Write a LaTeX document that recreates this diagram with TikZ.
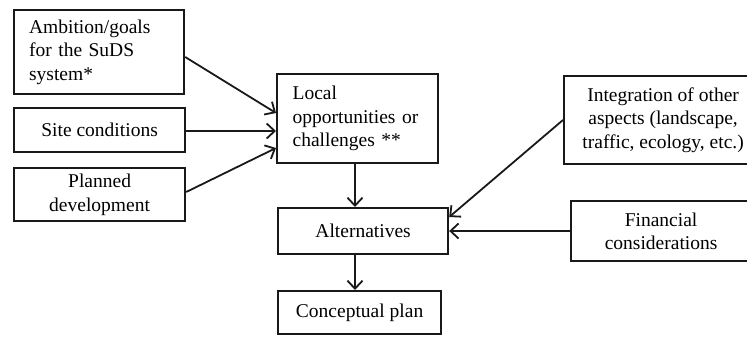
\documentclass[tikz,border=0pt]{standalone}
\usepackage{fontspec}
\setmainfont{Liberation Serif}
\usetikzlibrary{arrows.meta}
\begin{document}
\begin{tikzpicture}[x=1pt,y=-1pt,
  box/.style={draw=black!90, line width=2.2pt, anchor=north west, inner sep=0pt,
    font=\fontsize{19.5}{23.5}\selectfont},
  flow/.style={draw=black!90, line width=1.8pt, -{Straight Barb[length=8pt,width=15pt,line width=1.8pt]}}]
\useasboundingbox (0,0) rectangle (747,338);
\clip (0,0) rectangle (747,338);
% left-hand inputs
\node[box, minimum width=170, minimum height=84, text width=140, align=left] (amb) at (13,9)
  {Ambition/goals\\for the SuDS\\system*};
\node[box, minimum width=171, minimum height=44, align=center] (site) at (13,107) {Site conditions};
\node[box, minimum width=171, minimum height=53, align=center] (plan) at (13,167) {Planned\\development};
% central column
\node[box, minimum width=161, minimum height=89, text width=130, align=left] (local) at (276,73)
  {Local\\opportunities or\\challenges **};
\node[box, minimum width=170, minimum height=46, align=center] (alt) at (277,207) {Alternatives};
\node[box, minimum width=163, minimum height=43, align=center] (conc) at (277,290) {Conceptual plan};
% right-hand inputs (running past the right edge)
\node[box, minimum width=198, minimum height=88, align=center] (integ) at (563,75)
  {Integration of other\\aspects (landscape,\\traffic, ecology, etc.)};
\node[box, minimum width=180, minimum height=60, align=center] (fin) at (570,200)
  {Financial\\considerations};
% connectors
\draw[flow] (amb.east |- 0,57) -- (local.west |- 0,113);
\draw[flow] (site.east |- 0,131) -- (local.west |- 0,131);
\draw[flow] (plan.east |- 0,192) -- (local.west |- 0,148);
\draw[flow] (local.south -| 355,0) -- (alt.north -| 355,0);
\draw[flow] (alt.south -| 355,0) -- (conc.north -| 355,0);
\draw[flow] (integ.west |- 0,120) -- (alt.east |- 0,217);
\draw[flow] (fin.west |- 0,231) -- (alt.east |- 0,231);
\end{tikzpicture}
\end{document}
